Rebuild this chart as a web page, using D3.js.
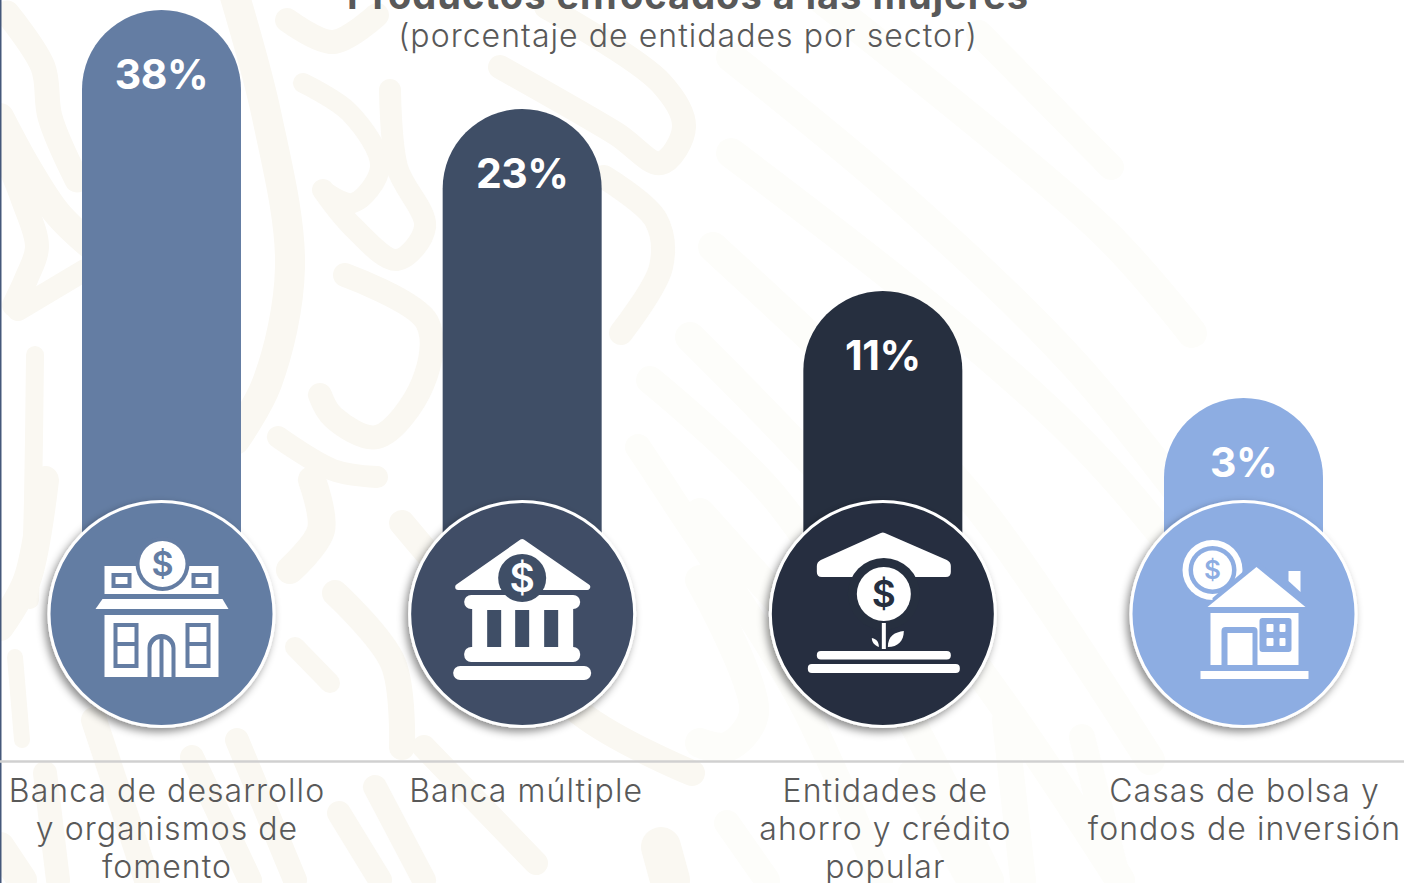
<!DOCTYPE html>
<html lang="es">
<head>
<meta charset="utf-8">
<script src="https://cdn.jsdelivr.net/npm/d3@7"></script>
<style>
html,body{margin:0;padding:0;background:#fff;overflow:hidden}
svg{display:block}
text{font-family:Inter,"Open Sans",sans-serif}
</style>
</head>
<body>
<svg id="chart" width="1404" height="883"></svg>
<script>
const categories = ["Banca de desarrollo y organismos de fomento","Banca múltiple","Entidades de ahorro y crédito popular","Casas de bolsa y fondos de inversión"];
const categoryLines = [["Banca de desarrollo","y organismos de","fomento"],["Banca múltiple"],["Entidades de","ahorro y crédito","popular"],["Casas de bolsa y","fondos de inversión"]];
const values = [38,23,11,3];
const valueLabels = ["38%","23%","11%","3%"];
const colors = ["#647da3","#3f4e66","#262f3f","#8dadE2"];
const titleText = "Productos enfocados a las mujeres";
const subtitleText = "(porcentaje de entidades por sector)";

// The source bars are pictorial, so their heights are not proportional: the scale follows the picture.
const y = d3.scaleLinear().domain([3,11,23,38]).range([398,291,109,10]);
const x = d3.scalePoint().domain(categories).range([161.5,1243.5]);
const xLabel = d3.scalePoint().domain(categories).range([166.5,1244]);
const barW = 159, discY = 614, discR = 112.5, axisY = 761.5;

const svg = d3.select("#chart");

// Faint watermark behind the chart
const patternWarm = [
 [[7,13],[43,67],[50,117],[77,180],25],[[0,117],[27,167],[57,213],[90,245],28],
 [[0,143],[23,200],[37,247],[27,277],[14,305],24],[[18,310],[85,270],22],
 [[35,355],[33,500],[30,600],18],[[15,657],[22,740],16],
 [[233,-10],[267,117],[290,267],[267,383],[235,440],30],
 [[287,20],[333,42],[377,15],24],[[303,83],[350,113],[380,167],[353,203],[323,190],20],
 [[390,90],[397,167],[425,227],[397,260],[353,227],[323,190],22],
 [[345,275],[427,322],[423,383],[377,437],[333,417],[320,395],24],[[278,437],[333,470],[377,477],22],
 [[45,480],[27,580],[0,627],28],[[312,480],[321,530],[290,570],28],
 [[335,593],[393,663],[402,747],26],[[295,647],[330,683],20],
 [[94,720],[147,880],26],[[237,740],[295,880],24],[[192,757],[250,880],24],[[339,813],[380,880],24],
 [[424,747],[536,863],24],[[375,787],[424,880],24],[[402,523],[580,713],[692,773],26],
 [[661,847],[670,880],40],[[45,773],[58,880],24],[[0,847],[22,880],30],[[546,7],[661,83],[684,127],[661,163],[615,133],[500,67],24],
 [[604,177],[656,220],[661,267],[621,333],24]
];
const patternPale = [
 [[731,57],[904,200],[1077,367],[1230,560],30],[[731,153],[961,333],[1105,467],[1290,700],30],
 [[713,247],[858,383],[973,500],[1150,760],30],[[690,337],[846,500],[1000,700],[1120,880],30],
 [[650,380],[777,500],[900,700],[990,880],28],[[638,447],[673,500],[800,700],[880,880],26],
 [[823,0],[1105,233],[1192,333],30],[[979,33],[1111,167],26],[[700,513],[790,613],30],
 [[700,580],[754,713],[727,747],[700,743],30],[[1005,720],[1023,880],26],[[1082,737],[1118,880],26],
 [[911,773],[969,880],26],[[727,823],[767,880],26]
];
const bgLine = d3.line().curve(d3.curveCatmullRom.alpha(0.5));
const bg = svg.append("g").attr("fill","none").attr("stroke-linecap","round");
[[patternWarm,"#faf8f2"],[patternPale,"#fdfdfa"]].forEach(([set,col])=>{
  bg.selectAll(null).data(set).join("path")
    .attr("d",d=>bgLine(d.slice(0,-1)))
    .attr("stroke",col).attr("stroke-width",d=>d[d.length-1]);
});

// Left edge
svg.append("rect").attr("x",0).attr("y",0).attr("width",1.5).attr("height",883).attr("fill","#45587a");

// Titles
svg.append("text").attr("x",688).attr("y",9).attr("text-anchor","middle")
  .attr("font-size",38).attr("font-weight",700).attr("letter-spacing",1).attr("fill","#595959").text(titleText);
svg.append("text").attr("x",688).attr("y",47).attr("text-anchor","middle")
  .attr("font-size",32).attr("font-weight",300).attr("letter-spacing",1.05).attr("fill","#595959").text(subtitleText);

// Shadow
const defs = svg.append("defs");
const f = defs.append("filter").attr("id","sh").attr("x","-20%").attr("y","-20%").attr("width","140%").attr("height","140%");
f.append("feDropShadow").attr("dx",-3).attr("dy",4).attr("stdDeviation",4).attr("flood-color","#000").attr("flood-opacity",0.45);

// Bars
svg.append("g").selectAll("rect").data(categories).join("rect")
  .attr("x",d=>x(d)-barW/2).attr("width",barW)
  .attr("y",(d,i)=>y(values[i]))
  .attr("height",(d,i)=>discY+80-y(values[i]))
  .attr("rx",barW/2).attr("fill",(d,i)=>colors[i]);

// Value labels
svg.append("g").selectAll("text").data(categories).join("text")
  .attr("x",d=>x(d)).attr("y",(d,i)=>y(values[i])+79)
  .attr("text-anchor","middle").attr("font-size",41).attr("font-weight",700)
  .attr("letter-spacing",-0.5).attr("fill","#fff").text((d,i)=>valueLabels[i]);

// Discs
const discs = svg.append("g").selectAll("g").data(categories).join("g")
  .attr("transform",d=>`translate(${x(d)},${discY})`)
  .style("color",(d,i)=>colors[i]);
discs.append("circle").attr("r",discR).attr("fill",(d,i)=>colors[i])
  .attr("stroke","#fff").attr("stroke-width",3).attr("filter","url(#sh)");

const dollar = (cx,cy,size,fill)=>`<text x="${cx}" y="${cy+size*0.36}" text-anchor="middle" font-size="${size}" font-weight="600" fill="${fill}">$</text>`;
const icons = [
 // building
 `<g fill="#fff">
  <rect x="-57" y="-48" width="114" height="28"/>
  <path d="M-59,-15 L61,-15 L67,-5 L-66,-5Z"/>
  <rect x="-57" y="1" width="114" height="62"/>
  <g fill="currentColor">
   <path fill-rule="evenodd" d="M-50,-41h20v15h-20Z M-46,-37v7h12v-7Z"/>
   <path fill-rule="evenodd" d="M30,-41h20v15h-20Z M34,-37v7h12v-7Z"/>
   <path fill-rule="evenodd" d="M-48,9h25v45h-25Z M-44,13v15h17v-15Z M-44,32v18h17v-18Z"/>
   <path fill-rule="evenodd" d="M24,9h25v45h-25Z M28,13v15h17v-15Z M28,32v18h17v-18Z"/>
   <path d="M-14,63V34a14,14 0 0 1 28,0V63h-4V34a10,10 0 0 0 -8,-9V63h-4V25a10,10 0 0 0 -8,9V63Z"/>
   <circle cx="1" cy="-50" r="27"/>
  </g>
  <circle cx="1" cy="-50" r="23"/>
  ${dollar(1,-50,34,"currentColor")}
 </g>`,
 // bank
 `<g fill="#fff">
  <path d="M0,-72 L65,-27 L-64,-27Z" stroke="#fff" stroke-width="6" stroke-linejoin="round"/>
  <rect x="-58" y="-19" width="116" height="14" rx="7"/>
  <rect x="-50" y="-6" width="101" height="40"/>
  <rect x="-58" y="33" width="116" height="15" rx="7"/>
  <rect x="-69" y="52" width="138" height="14" rx="7"/>
  <g fill="currentColor">
   <rect x="-35" y="-4" width="14" height="37"/><rect x="-7" y="-4" width="14" height="37"/><rect x="22" y="-4" width="14" height="37"/>
   <circle cx="0" cy="-36" r="24"/>
  </g>
  ${dollar(0,-36,39,"#fff")}
 </g>`,
 // savings
 `<g fill="#fff">
  <path d="M-2,-81 Q0,-82 2,-81 L64,-54 Q68,-52 68,-48 L68,-42 Q68,-37 63,-37 L-61,-37 Q-66,-37 -66,-42 L-66,-48 Q-66,-52 -62,-54Z"/>
  <circle cx="1" cy="-20" r="36" fill="currentColor"/>
  <circle cx="1" cy="-20" r="27"/>
  ${dollar(1,-20,37,"currentColor")}
  <rect x="-1" y="9" width="4" height="26"/>
  <path d="M5,33 C5,22 12,18 21,17 C21,27 15,33 5,33Z"/>
  <path d="M-4,33 C-9,31 -11,28 -11,24 C-6,25 -4,28 -4,33Z"/>
  <rect x="-66" y="37" width="134" height="8.5" rx="4"/>
  <rect x="-75" y="50" width="152" height="9" rx="4"/>
 </g>`,
 // house
 `<g fill="#fff">
  <circle cx="-31" cy="-44" r="30"/>
  <circle cx="-31" cy="-44" r="24" fill="currentColor"/>
  <circle cx="-31" cy="-44" r="19.5"/>
  ${dollar(-31,-44,26,"currentColor")}
  <path d="M-31,-16 L13,-54 L68,-4 L-31,-4Z" fill="currentColor"/>
  <path d="M45,-43 H57 V-22 L45,-33Z"/>
  <path d="M13,-47 L62,-7 L-36,-7Z"/>
  <rect x="-33" y="-1" width="88" height="52"/>
  <path d="M-22,51 V17 Q-22,13 -18,13 H10 Q14,13 14,17 V51 H9 V19 H-16 V51Z" fill="currentColor"/>
  <rect x="16" y="4" width="32" height="34" rx="3" fill="currentColor"/>
  <rect x="23" y="10" width="7" height="8" rx="1"/><rect x="36" y="10" width="6" height="8" rx="1"/>
  <rect x="23" y="24" width="7" height="8" rx="1"/><rect x="36" y="24" width="6" height="8" rx="1"/>
  <rect x="-43" y="57" width="108" height="8"/>
 </g>`
];
discs.append("g").html((d,i)=>icons[i]);

// Axis with wrapped category labels
svg.append("line").attr("x1",0).attr("x2",1404).attr("y1",axisY).attr("y2",axisY)
  .attr("stroke","#d0d0d0").attr("stroke-width",2.5);
const axisG = svg.append("g").attr("transform",`translate(0,${axisY})`)
  .call(d3.axisBottom(xLabel).tickSize(0));
axisG.select(".domain").remove();
axisG.selectAll(".tick text").each(function(d){
  const lines = categoryLines[categories.indexOf(d)];
  const t = d3.select(this).text(null).attr("y",40.5).attr("dy",null)
    .attr("font-size",32).attr("font-weight",300).attr("letter-spacing",1.05)
    .attr("fill","#595959").attr("font-family","Inter,'Open Sans',sans-serif");
  lines.forEach((l,i)=>t.append("tspan").attr("x",0).attr("y",40.5+i*38).text(l));
});
</script>
</body>
</html>
